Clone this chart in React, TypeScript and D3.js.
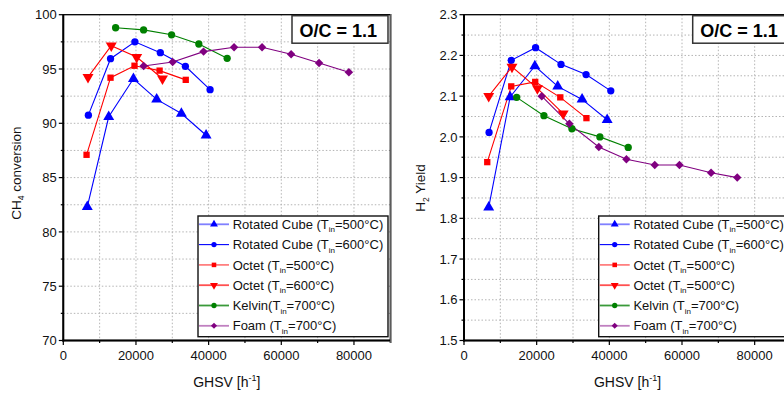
import { useEffect, useRef } from 'react';
import * as d3 from 'd3';

// GHSV [h^-1] and value pairs
const rc500Ghsv = [6600, 12500, 19300, 25700, 32500, 39300];
const rc500Ch4 = [82.3, 90.6, 94.1, 92.2, 90.9, 88.9];
const rc500H2 = [1.827, 2.098, 2.174, 2.124, 2.092, 2.042];
const rc500GhsvH2 = [6800, 12700, 19500, 25800, 32500, 39400];

const rc600Ghsv = [6900, 13000, 19700, 26700, 33600, 40400];
const rc600Ch4 = [90.75, 95.95, 97.5, 96.5, 95.25, 93.1];
const rc600H2 = [2.011, 2.188, 2.219, 2.178, 2.153, 2.113];

const oct500Ghsv = [6400, 13000, 19600, 26500, 33700];
const oct500Ch4 = [87.1, 94.2, 95.3, 94.85, 94.0];
const oct500H2 = [1.938, 2.124, 2.135, 2.097, 2.046];

const oct600Ghsv = [6800, 13200, 20200, 27300];
const oct600Ch4 = [94.25, 97.15, 96.1, 94.1];
const oct600H2 = [2.1, 2.172, 2.119, 2.057];

const kelvinGhsv = [14400, 22100, 29800, 37300, 45100];
const kelvinGhsvH2 = [14500, 22000, 29700, 37400, 45200];
const kelvinCh4 = [98.8, 98.6, 98.15, 97.3, 95.98];
const kelvinH2 = [2.097, 2.052, 2.02, 2.0, 1.974];

const foamGhsv = [22100, 30100, 38600, 47000, 54700, 62700, 70400, 78600];
const foamGhsvH2 = [21400, 29000, 37100, 44700, 52500, 59300, 68000, 75200];
const foamCh4 = [95.27, 95.64, 96.6, 97.0, 97.0, 96.35, 95.55, 94.7];
const foamH2 = [2.1, 2.032, 1.975, 1.945, 1.931, 1.931, 1.912, 1.9];

const xTicks = [0, 20000, 40000, 60000, 80000];
const ch4Ticks = [70, 75, 80, 85, 90, 95, 100];
const h2Ticks = [1.5, 1.6, 1.7, 1.8, 1.9, 2.0, 2.1, 2.2, 2.3];

// legend text: [name, temperature]
const ch4Legend = [
  ['Rotated Cube (T', '=500°C)'],
  ['Rotated Cube (T', '=600°C)'],
  ['Octet (T', '=500°C)'],
  ['Octet (T', '=600°C)'],
  ['Kelvin(T', '=700°C)'],
  ['Foam (T', '=700°C)'],
];
const h2Legend = [
  ['Rotated Cube (T', '=500°C)'],
  ['Rotated Cube (T', '=600°C)'],
  ['Octet (T', '=500°C)'],
  ['Octet (T', '=500°C)'],
  ['Kelvin (T', '=700°C)'],
  ['Foam (T', '=700°C)'],
];

const colors = ['#0000ff', '#0000ff', '#ff0000', '#ff0000', '#008000', '#800080'];
const legendLineColors = ['#8080ff', '#0000ff', '#ff8080', '#ff5050', '#3a9a3a', '#c080c0'];
const symbols = ['up', 'circle', 'square', 'down', 'circle', 'diamond'];

const FONT = 'Liberation Sans, Arial, Helvetica, sans-serif';

type PanelOpts = {
  x0: number;
  yDomain: [number, number];
  yTicks: number[];
  yMinor: number;
  yFmt: (v: number) => string;
  series: [number, number][][];
  legend: string[][];
  yLabel: string[];
  yLabelX: number;
  yLabelY: number;
};

function markerPath(kind: string) {
  if (kind === 'circle') return d3.symbol(d3.symbolCircle, 42)()!;
  if (kind === 'square') return d3.symbol(d3.symbolSquare, 40)()!;
  if (kind === 'diamond') return d3.symbol(d3.symbolSquare, 36)()!;
  return d3.symbol(d3.symbolTriangle, 52)()!;
}

function markerRot(kind: string) {
  if (kind === 'down') return ' rotate(180)';
  if (kind === 'diamond') return ' rotate(45)';
  return '';
}

function drawPanel(svg: d3.Selection<SVGSVGElement, unknown, null, undefined>, o: PanelOpts) {
  const top = 14.7;
  const bottom = 340.5;
  const w = 327;
  const x = d3.scaleLinear().domain([0, 90000]).range([o.x0, o.x0 + w]);
  const y = d3.scaleLinear().domain(o.yDomain).range([bottom, top]);
  const g = svg.append('g');

  // grid
  d3.range(10000, 90000, 10000).forEach(v => {
    g.append('line')
      .attr('x1', x(v)).attr('x2', x(v)).attr('y1', top).attr('y2', bottom)
      .attr('stroke', '#b4b4b4').attr('stroke-width', 1).attr('stroke-dasharray', '1.5,2');
  });
  const nMinor = Math.round((o.yDomain[1] - o.yDomain[0]) / o.yMinor);
  for (let i = 1; i < nMinor; i++) {
    const v = o.yDomain[0] + i * o.yMinor;
    g.append('line')
      .attr('x1', o.x0).attr('x2', o.x0 + w).attr('y1', y(v)).attr('y2', y(v))
      .attr('stroke', '#b4b4b4').attr('stroke-width', 1).attr('stroke-dasharray', '1.5,2');
  }

  // frame
  g.append('rect')
    .attr('x', o.x0).attr('y', top).attr('width', w).attr('height', bottom - top)
    .attr('fill', 'none').attr('stroke', '#000').attr('stroke-width', 1.3);
  g.append('line').attr('x1', o.x0).attr('x2', o.x0).attr('y1', top).attr('y2', bottom + 1)
    .attr('stroke', '#000').attr('stroke-width', 2);
  g.append('line').attr('x1', o.x0 - 1).attr('x2', o.x0 + w).attr('y1', bottom).attr('y2', bottom)
    .attr('stroke', '#000').attr('stroke-width', 2);

  // x ticks
  d3.range(0, 90001, 10000).forEach(v => {
    const major = v % 20000 === 0;
    g.append('line')
      .attr('x1', x(v)).attr('x2', x(v)).attr('y1', bottom).attr('y2', bottom + (major ? 4.5 : 2.5))
      .attr('stroke', '#000').attr('stroke-width', 1.2);
  });
  xTicks.forEach(v => {
    g.append('text')
      .attr('x', x(v)).attr('y', bottom + 19.5)
      .attr('text-anchor', 'middle').attr('font-family', FONT).attr('font-size', 13)
      .attr('fill', '#111').text(String(v));
  });

  // y ticks
  for (let i = 0; i <= nMinor; i++) {
    const v = o.yDomain[0] + i * o.yMinor;
    const major = i % 2 === 0;
    g.append('line')
      .attr('x1', o.x0 - (major ? 4.5 : 2.5)).attr('x2', o.x0).attr('y1', y(v)).attr('y2', y(v))
      .attr('stroke', '#000').attr('stroke-width', 1.2);
  }
  o.yTicks.forEach(v => {
    g.append('text')
      .attr('x', o.x0 - 6.5).attr('y', y(v)).attr('dy', '0.36em')
      .attr('text-anchor', 'end').attr('font-family', FONT).attr('font-size', 13)
      .attr('fill', '#111').text(o.yFmt(v));
  });

  // axis titles
  const xt = g.append('text')
    .attr('x', (o.x0 + o.x0 + w) / 2).attr('y', 386.7)
    .attr('text-anchor', 'middle').attr('font-family', FONT).attr('font-size', 14).attr('fill', '#111');
  xt.append('tspan').text('GHSV [h');
  xt.append('tspan').attr('font-size', 9).attr('dy', -6).text('-1');
  xt.append('tspan').attr('dy', 6).text(']');

  const yt = g.append('text')
    .attr('transform', `translate(${o.yLabelX},${o.yLabelY}) rotate(-90)`)
    .attr('text-anchor', 'middle').attr('font-family', FONT).attr('font-size', 13.5).attr('fill', '#111');
  yt.append('tspan').text(o.yLabel[0]);
  yt.append('tspan').attr('font-size', 8.5).attr('dy', 3.5).text(o.yLabel[1]);
  yt.append('tspan').attr('dy', -3.5).text(o.yLabel[2]);

  // series
  const line = d3.line<[number, number]>().x(d => x(d[0])).y(d => y(d[1]));
  o.series.forEach((s, i) => {
    g.append('path').attr('d', line(s)!)
      .attr('fill', 'none').attr('stroke', colors[i]).attr('stroke-width', 1.1);
  });
  o.series.forEach((s, i) => {
    g.selectAll(null).data(s).enter().append('path')
      .attr('d', markerPath(symbols[i]))
      .attr('transform', d => `translate(${x(d[0])},${y(d[1])})${markerRot(symbols[i])}`)
      .attr('fill', colors[i]);
  });

  // O/C box
  const bx = o.x0 + 228.7;
  g.append('rect').attr('x', bx).attr('y', 15.7).attr('width', 96).attr('height', 27.5)
    .attr('fill', '#fff').attr('stroke', '#333').attr('stroke-width', 1.5);
  g.append('text').attr('x', bx + 7.5).attr('y', 37.3)
    .attr('font-family', FONT).attr('font-size', 18).attr('font-weight', 'bold').attr('fill', '#000')
    .text('O/C = 1.1');

  // legend
  const lx = o.x0 + 134.7;
  const ly = 216;
  g.append('rect').attr('x', lx).attr('y', ly).attr('width', 190).attr('height', 120.7)
    .attr('fill', '#fff').attr('stroke', '#111').attr('stroke-width', 1.4);
  o.legend.forEach((lab, i) => {
    const cy = 224.3 + i * 20.3;
    g.append('line').attr('x1', lx + 1).attr('x2', lx + 31).attr('y1', cy).attr('y2', cy)
      .attr('stroke', legendLineColors[i]).attr('stroke-width', i === 1 ? 1.1 : 1.8);
    g.append('path').attr('d', markerPath(symbols[i]))
      .attr('transform', `translate(${lx + 16},${cy}) scale(0.72)${markerRot(symbols[i])}`)
      .attr('fill', colors[i]);
    const t = g.append('text').attr('x', lx + 34.7).attr('y', cy + 4.6)
      .attr('font-family', FONT).attr('font-size', 13).attr('fill', '#111');
    t.append('tspan').text(lab[0]);
    t.append('tspan').attr('font-size', 8).attr('dy', 3.5).text('in');
    t.append('tspan').attr('dy', -3.5).text(lab[1]);
  });
}

const zip = (a: number[], b: number[]) => a.map((v, i) => [v, b[i]] as [number, number]);

export default function App() {
  const ref = useRef<SVGSVGElement>(null);

  useEffect(() => {
    if (!ref.current) return;
    const svg = d3.select(ref.current);
    svg.selectAll('*').remove();
    svg.append('rect').attr('width', 784).attr('height', 393).attr('fill', '#fff');

    drawPanel(svg, {
      x0: 63.3,
      yDomain: [70, 100],
      yTicks: ch4Ticks,
      yMinor: 2.5,
      yFmt: v => String(v),
      series: [
        zip(rc500Ghsv, rc500Ch4),
        zip(rc600Ghsv, rc600Ch4),
        zip(oct500Ghsv, oct500Ch4),
        zip(oct600Ghsv, oct600Ch4),
        zip(kelvinGhsv, kelvinCh4),
        zip(foamGhsv, foamCh4),
      ],
      legend: ch4Legend,
      yLabel: ['CH', '4', ' conversion'],
      yLabelX: 20.7,
      yLabelY: 173,
    });

    drawPanel(svg, {
      x0: 464,
      yDomain: [1.5, 2.3],
      yTicks: h2Ticks,
      yMinor: 0.05,
      yFmt: v => v.toFixed(1),
      series: [
        zip(rc500GhsvH2, rc500H2),
        zip(rc600Ghsv, rc600H2),
        zip(oct500Ghsv, oct500H2),
        zip(oct600Ghsv, oct600H2),
        zip(kelvinGhsvH2, kelvinH2),
        zip(foamGhsvH2, foamH2),
      ],
      legend: h2Legend,
      yLabel: ['H', '2', ' Yield'],
      yLabelX: 425,
      yLabelY: 188,
    });

    // edge of the right-hand image
    svg.append('line').attr('x1', 391).attr('x2', 391).attr('y1', 14).attr('y2', 343)
      .attr('stroke', '#777').attr('stroke-width', 1.5);
  }, []);

  return (
    <svg ref={ref} width={784} height={393}
      style={{ position: 'absolute', left: 0, top: 0, display: 'block' }} />
  );
}
